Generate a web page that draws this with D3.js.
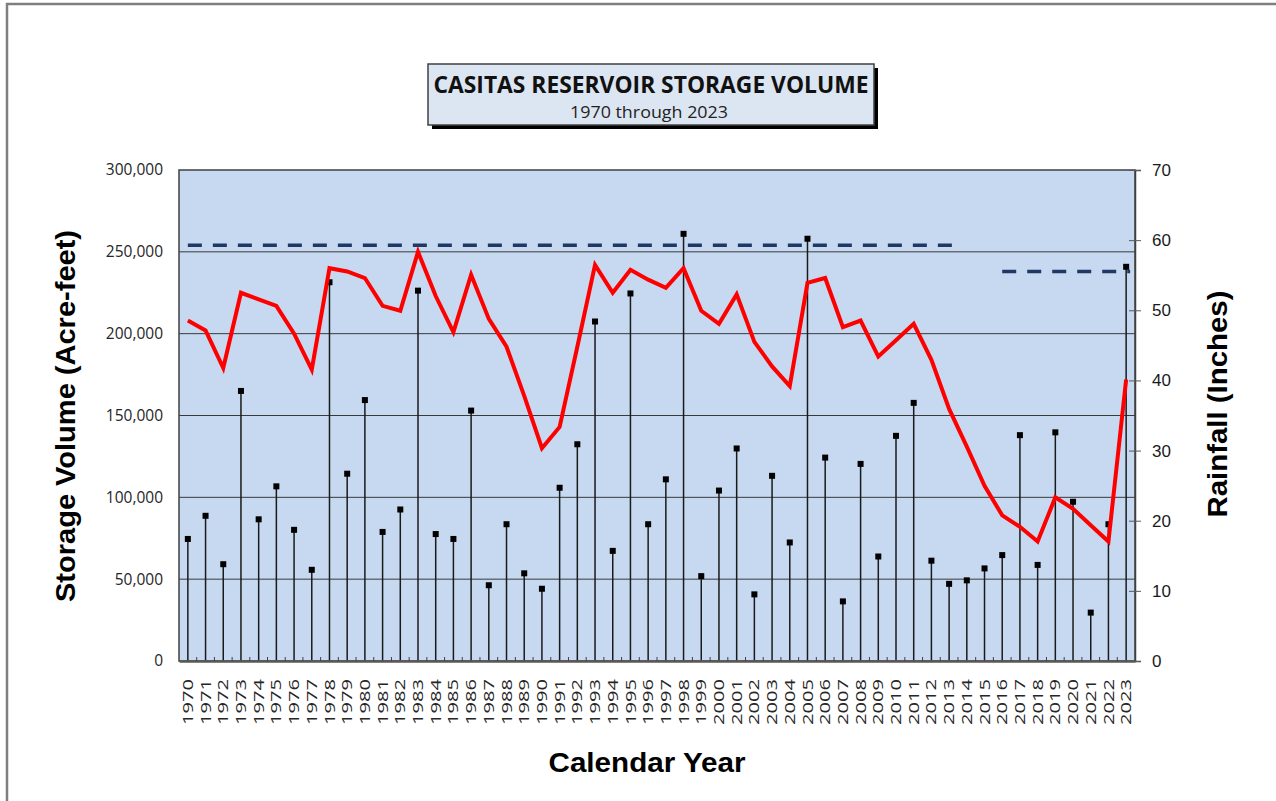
<!DOCTYPE html>
<html>
<head>
<meta charset="utf-8">
<script src="https://cdn.jsdelivr.net/npm/d3@7"></script>
<style>
  html, body { margin: 0; padding: 0; background: #fff; }
  svg { display: block; }
</style>
</head>
<body>
<div id="chart"></div>
<script>
// yearly values
const years = d3.range(1970, 2024)

// reservoir storage at year end (acre-feet)
const storage = [
  208000, 202000, 179000, 225000, 221000, 217000, 200000, 178000, 240000, 238000,
  234000, 217000, 214000, 250000, 223000, 201000, 236000, 209000, 192000, 162000,
  130000, 143000, 192000, 242000, 225000, 239000, 233000, 228000, 240000, 214000,
  206000, 224000, 195000, 180000, 168000, 231000, 234000, 204000, 208000, 186000,
  196000, 206000, 184000, 154000, 131000, 107000, 89000, 82000, 73000, 100000,
  93000, 83000, 73000, 172000
]

// rainfall per year (inches)
const rainfall = [
  17.4, 20.7, 13.8, 38.5, 20.2, 24.9, 18.7, 13.0, 54.0, 26.7,
  37.2, 18.4, 21.6, 52.8, 18.1, 17.4, 35.7, 10.8, 19.5, 12.5,
  10.3, 24.7, 30.9, 48.4, 15.7, 52.4, 19.5, 25.9, 60.9, 12.1,
  24.3, 30.3, 9.5, 26.4, 16.9, 60.2, 29.0, 8.5, 28.1, 14.9,
  32.1, 36.8, 14.3, 11.0, 11.5, 13.2, 15.1, 32.2, 13.7, 32.6,
  22.7, 6.9, 19.5, 56.2
]

// reservoir capacity lines
const capacityFrom = [1970, 2016]
const capacityTo = [2013, 2023]
const capacityValue = [254000, 238000]

const storageTicks = [0, 50000, 100000, 150000, 200000, 250000, 300000]
const rainTicks = [0, 10, 20, 30, 40, 50, 60, 70]

const width = 1276, height = 801
const margin = {top: 170, right: 141, bottom: 140, left: 179}
const plotW = width - margin.left - margin.right
const plotH = height - margin.top - margin.bottom

const svg = d3.select('#chart').append('svg')
    .attr('width', width)
    .attr('height', height)

// outer frame
svg.append('rect')
    .attr('x', 7).attr('y', 4)
    .attr('width', width + 20).attr('height', height + 20)
    .attr('fill', '#fff')
    .attr('stroke', '#7f7f7f')
    .attr('stroke-width', 2.5)

// scales
const x = d3.scaleBand()
    .domain(years)
    .range([margin.left, margin.left + plotW])
    .padding(0)
const cx = d => x(d) + x.bandwidth() / 2

const yL = d3.scaleLinear()
    .domain([0, 300000])
    .range([margin.top + plotH, margin.top])

const yR = d3.scaleLinear()
    .domain([0, 70])
    .range([margin.top + plotH, margin.top])

// plot background
svg.append('rect')
    .attr('x', margin.left).attr('y', margin.top)
    .attr('width', plotW).attr('height', plotH)
    .attr('fill', '#c6d9f1')

// gridlines
svg.append('g')
    .selectAll('line')
    .data(storageTicks.slice(1, -1))
    .join('line')
    .attr('x1', margin.left).attr('x2', margin.left + plotW)
    .attr('y1', d => yL(d)).attr('y2', d => yL(d))
    .attr('stroke', '#3a3a3a')
    .attr('stroke-width', 1)

// capacity dashed lines
svg.append('g')
    .selectAll('line')
    .data(capacityValue)
    .join('line')
    .attr('x1', (d, i) => cx(capacityFrom[i]))
    .attr('x2', (d, i) => cx(capacityTo[i]) + 4)
    .attr('y1', d => yL(d)).attr('y2', d => yL(d))
    .attr('stroke', '#1f3864')
    .attr('stroke-width', 3.5)
    .attr('stroke-dasharray', '14 11')

// rainfall stems
const rain = years.map((yr, i) => ({year: yr, value: rainfall[i]}))
svg.append('g')
    .selectAll('line')
    .data(rain)
    .join('line')
    .attr('x1', d => cx(d.year)).attr('x2', d => cx(d.year))
    .attr('y1', yR(0)).attr('y2', d => yR(d.value))
    .attr('stroke', '#1a1a1a')
    .attr('stroke-width', 1.5)

svg.append('g')
    .selectAll('rect')
    .data(rain)
    .join('rect')
    .attr('x', d => cx(d.year) - 3)
    .attr('y', d => yR(d.value) - 3)
    .attr('width', 6).attr('height', 6)
    .attr('fill', '#000')

// storage line
const line = d3.line()
    .x(d => cx(d.year))
    .y(d => yL(d.value))
svg.append('path')
    .datum(years.map((yr, i) => ({year: yr, value: storage[i]})))
    .attr('d', line)
    .attr('fill', 'none')
    .attr('stroke', '#ff0000')
    .attr('stroke-width', 4)
    .attr('stroke-linejoin', 'miter')

// plot border
svg.append('rect')
    .attr('x', margin.left).attr('y', margin.top)
    .attr('width', plotW).attr('height', plotH)
    .attr('fill', 'none')
    .attr('stroke', '#404040')
    .attr('stroke-width', 1.5)

// left axis
const leftAxis = svg.append('g')
    .attr('transform', 'translate(' + margin.left + ',0)')
    .call(d3.axisLeft(yL).tickValues(storageTicks).tickSize(0).tickPadding(16)
        .tickFormat(d3.format(',')))
leftAxis.select('.domain').remove()
leftAxis.selectAll('text')
    .attr('font-family', 'Open Sans, sans-serif')
    .attr('font-size', 15.5)
    .attr('fill', '#262626')

// right axis
const rightAxis = svg.append('g')
    .attr('transform', 'translate(' + (margin.left + plotW) + ',0)')
    .call(d3.axisRight(yR).tickValues(rainTicks).tickSize(6).tickPadding(11))
rightAxis.select('.domain')
    .attr('stroke', '#404040')
    .attr('stroke-width', 1.5)
rightAxis.selectAll('.tick line')
    .attr('x1', -6)
    .attr('stroke', '#595959')
rightAxis.selectAll('text')
    .attr('font-family', 'Liberation Sans, Arial, sans-serif')
    .attr('font-size', 17)
    .attr('fill', '#1a1a1a')

// bottom axis
const bottomAxis = svg.append('g')
    .attr('transform', 'translate(0,' + (margin.top + plotH) + ')')
    .call(d3.axisBottom(x).tickSize(0).tickPadding(0))
bottomAxis.select('.domain')
    .attr('stroke', '#595959')
    .attr('stroke-width', 2.5)
bottomAxis.selectAll('text')
    .attr('font-family', 'Open Sans, sans-serif')
    .attr('font-size', 14.5)
    .attr('fill', '#262626')
    .attr('text-anchor', 'end')
    .attr('transform', 'translate(0,18) rotate(-90)')
    .attr('x', 0).attr('y', 0)
    .attr('dy', '0.35em')
    .attr('textLength', 46)
    .attr('lengthAdjust', 'spacingAndGlyphs')

// small category ticks between years
svg.append('g')
    .selectAll('line')
    .data(years.slice(1))
    .join('line')
    .attr('x1', d => x(d)).attr('x2', d => x(d))
    .attr('y1', margin.top + plotH).attr('y2', margin.top + plotH - 4)
    .attr('stroke', '#404040')
    .attr('stroke-width', 1)

// axis titles
svg.append('text')
    .attr('transform', 'translate(75,416) rotate(-90)')
    .attr('text-anchor', 'middle')
    .attr('font-family', 'Liberation Sans, Arial, sans-serif')
    .attr('font-weight', 'bold')
    .attr('font-size', 27)
    .attr('textLength', 372)
    .attr('lengthAdjust', 'spacingAndGlyphs')
    .text('Storage Volume (Acre-feet)')

svg.append('text')
    .attr('transform', 'translate(1227,404) rotate(-90)')
    .attr('text-anchor', 'middle')
    .attr('font-family', 'Liberation Sans, Arial, sans-serif')
    .attr('font-weight', 'bold')
    .attr('font-size', 27)
    .attr('textLength', 227)
    .attr('lengthAdjust', 'spacingAndGlyphs')
    .text('Rainfall (Inches)')

svg.append('text')
    .attr('x', 647).attr('y', 772)
    .attr('text-anchor', 'middle')
    .attr('font-family', 'Liberation Sans, Arial, sans-serif')
    .attr('font-weight', 'bold')
    .attr('font-size', 27)
    .attr('textLength', 197)
    .attr('lengthAdjust', 'spacingAndGlyphs')
    .text('Calendar Year')

// title box with shadow
svg.append('rect')
    .attr('x', 432).attr('y', 68)
    .attr('width', 446).attr('height', 61)
    .attr('fill', '#000')
svg.append('rect')
    .attr('x', 428).attr('y', 64)
    .attr('width', 446).attr('height', 61)
    .attr('fill', '#dce6f2')
    .attr('stroke', '#404040')
    .attr('stroke-width', 1.5)

svg.append('text')
    .attr('x', 651).attr('y', 93)
    .attr('text-anchor', 'middle')
    .attr('font-family', 'Open Sans, sans-serif')
    .attr('font-weight', 'bold')
    .attr('font-size', 24)
    .attr('textLength', 435)
    .attr('lengthAdjust', 'spacingAndGlyphs')
    .attr('fill', '#111')
    .text('CASITAS RESERVOIR STORAGE VOLUME')

svg.append('text')
    .attr('x', 649).attr('y', 118)
    .attr('text-anchor', 'middle')
    .attr('font-family', 'Open Sans, sans-serif')
    .attr('font-size', 16)
    .attr('textLength', 158)
    .attr('lengthAdjust', 'spacingAndGlyphs')
    .attr('fill', '#222')
    .text('1970 through 2023')
</script>
</body>
</html>
